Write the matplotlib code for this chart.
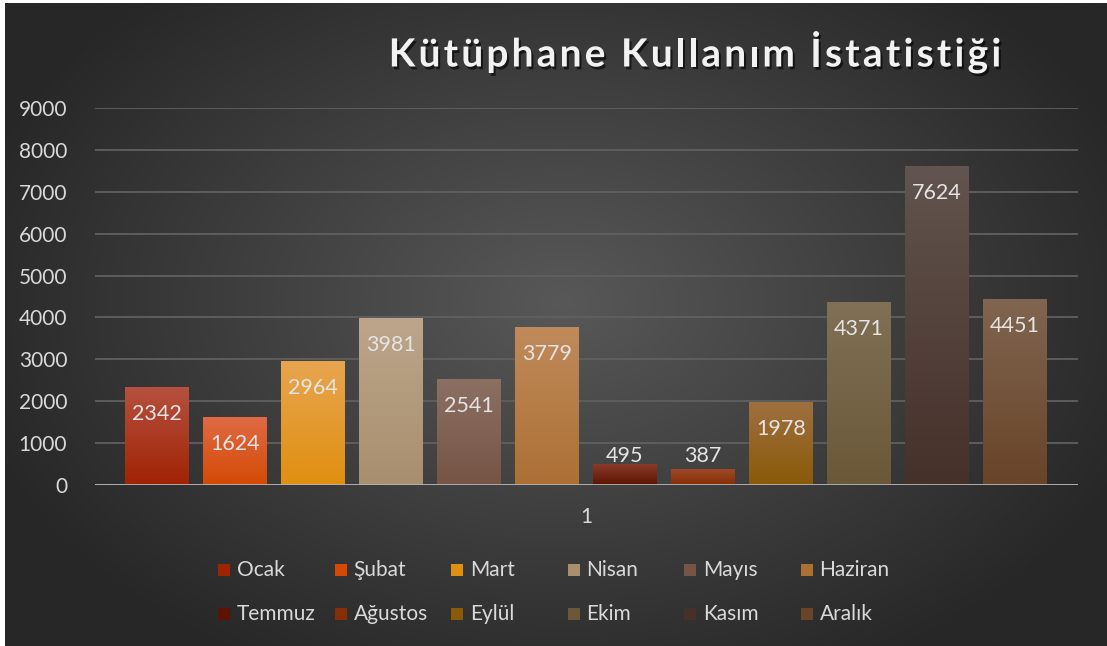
import numpy as np
import matplotlib; matplotlib.use("Agg")
import matplotlib.pyplot as plt
from matplotlib.patches import Rectangle
from matplotlib.colors import LinearSegmentedColormap
import matplotlib.patheffects as pe

# --- veri ---
aylar = ["Ocak", "Şubat", "Mart", "Nisan", "Mayıs", "Haziran",
         "Temmuz", "Ağustos", "Eylül", "Ekim", "Kasım", "Aralık"]
degerler = [2342, 1624, 2964, 3981, 2541, 3779, 495, 387, 1978, 4371, 7624, 4451]
kategori = ["1"]
renk_ust = ["#b5513f", "#e06a45", "#e8a550", "#bca58a", "#8c7064", "#c08a5a",
            "#8a3a2a", "#a04a2a", "#9e7040", "#807055", "#62544e", "#806550"]
renk_alt = ["#a12305", "#d44a05", "#e08f10", "#a88f6e", "#765446", "#ac7035",
            "#5c1400", "#862e04", "#8a5a08", "#6a5838", "#46302a", "#684428"]
yticks = np.arange(0, 9001, 1000)
baslik = "Kütüphane Kullanım İstatistiği"

W, H = 1107, 646
fig = plt.figure(figsize=(W / 100, H / 100), dpi=100)
fig.patch.set_facecolor("white")
plt.rcParams["font.family"] = ["Lato", "DejaVu Sans"]

# arka plan: radyal gradyan
bg = fig.add_axes([5 / W, 0, 1 - 5 / W, 1 - 3 / H])
yy, xx = np.mgrid[0:H, 0:W]
r = np.sqrt(((xx - 560) / 620) ** 2 + ((yy - 300) / 420) ** 2)
r = np.clip(r, 0, 1)
c0, c1 = np.array([0x58, 0x58, 0x58]) / 255, np.array([0x27, 0x27, 0x27]) / 255
img = c0[None, None, :] * (1 - r[..., None]) + c1[None, None, :] * r[..., None]
bg.imshow(img, aspect="auto", extent=[0, 1, 0, 1])
bg.axis("off")

# ana grafik
x0, x1, y0, y1 = 95, 1078, 485, 108
ax = fig.add_axes([x0 / W, (H - y0) / H, (x1 - x0) / W, (y0 - y1) / H])
ax.set_facecolor("none")
step = 78
pos = np.arange(len(aylar))
genislik = 64 / step
bars = ax.bar(pos, degerler, width=genislik, color=renk_alt, zorder=3)
ax.set_xlim((x0 - 157) / step, (x1 - 157) / step)
ax.set_ylim(0, 9000)

for b, cu, ca in zip(bars, renk_ust, renk_alt):
    cmap = LinearSegmentedColormap.from_list("g", [ca, cu])
    grad = np.linspace(0, 1, 100).reshape(-1, 1)
    im = ax.imshow(grad, cmap=cmap, origin="lower", aspect="auto", zorder=4,
                   extent=[b.get_x(), b.get_x() + b.get_width(), 0, b.get_height()])
    im.set_clip_path(b)

for p, v in zip(pos, degerler):
    ly = max(v - 645, 692)
    ax.text(p, ly, str(v), ha="center", va="center", fontsize=15.5,
            color="#e4e4e4", zorder=6)

ax.set_yticks(yticks)
ax.set_yticklabels([str(t) for t in yticks])
ax.grid(axis="y", color="#606060", lw=1.3, zorder=1)
ax.axhline(0, color="#b4b4b4", lw=2, zorder=5)
for s in ax.spines.values():
    s.set_visible(False)
ax.tick_params(axis="y", length=0, pad=20, labelsize=15, labelcolor="#d9d9d9")
ax.set_xticks([pos.mean()])
ax.set_xticklabels(kategori)
ax.tick_params(axis="x", length=0, pad=16, labelsize=15, labelcolor="#d9d9d9")

# başlık: harf aralıklı (Excel stili)
renderer = fig.canvas.get_renderer()
golge = [pe.withSimplePatchShadow(offset=(1.5, -2), shadow_rgbFace="black", alpha=0.6)]
harfler = []
for ch in baslik:
    t = fig.text(0, 1 - 55 / H, ch, ha="left", va="center", fontsize=28,
                 fontweight="bold", color="#f2f2f2", path_effects=golge)
    harfler.append(t)
genisl = [t.get_window_extent(renderer).width if ch != " " else 9 for t, ch in zip(harfler, baslik)]
aralik = 3.2
toplam = sum(genisl) + aralik * (len(baslik) - 1)
xx_ = 695 - toplam / 2
for t, w in zip(harfler, genisl):
    t.set_x(xx_ / W)
    xx_ += w + aralik

# lejant (Excel düzeni: 2 satır x 6 sütun)
for i, (ad, cu, ca) in enumerate(zip(aylar, renk_ust, renk_alt)):
    col, row = i % 6, i // 6
    lx = 218 + col * 116.5
    ly = 570 + row * 44
    fig.add_artist(Rectangle((lx / W, 1 - (ly + 6) / H), 12 / W, 12 / H,
                             facecolor=ca, edgecolor="none", transform=fig.transFigure))
    fig.text((lx + 19) / W, 1 - ly / H, ad, ha="left", va="center",
             fontsize=15, color="#d9d9d9")

fig.savefig("out.png", dpi=100, facecolor=fig.get_facecolor())
